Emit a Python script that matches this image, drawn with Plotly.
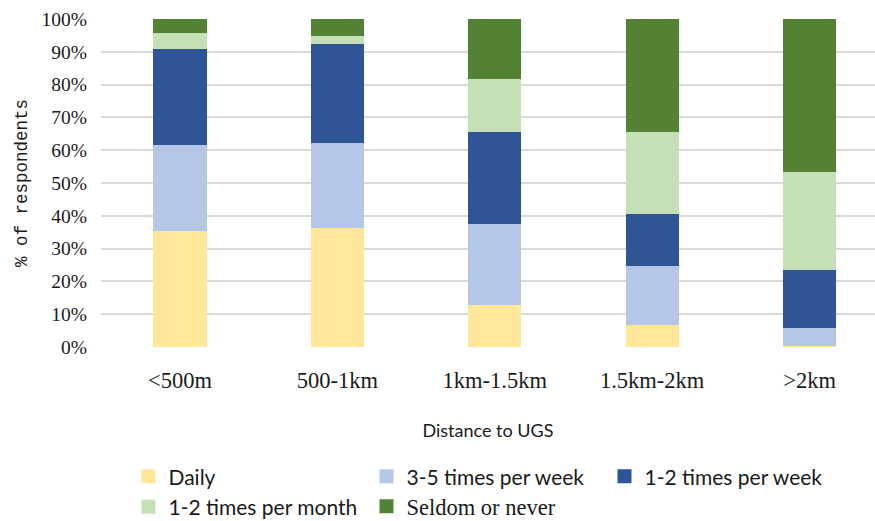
import plotly.graph_objects as go

# Distance bands to urban green space (UGS)
distances = ["<500m", "500-1km", "1km-1.5km", "1.5km-2km", ">2km"]

# Share of respondents (%) by visit frequency, stacked bottom to top
daily = [35.7, 36.7, 13.1, 6.9, 0.6]
times_3_5_week = [26.2, 25.8, 24.7, 18.0, 5.5]
times_1_2_week = [29.3, 30.3, 28.0, 15.9, 17.7]
times_1_2_month = [4.9, 2.2, 16.3, 25.1, 29.9]
seldom_never = [3.9, 5.0, 17.9, 34.1, 46.3]

y_ticks = [0, 10, 20, 30, 40, 50, 60, 70, 80, 90, 100]
y_tick_text = [f"{v}%" for v in y_ticks]

# (name, values, colour, legend id) - the last entry sits in a serif legend
series = [
    ("Daily", daily, "#FFE699", "legend"),
    ("3-5 times per week", times_3_5_week, "#B4C7E7", "legend"),
    ("1-2 times per week", times_1_2_week, "#2F5597", "legend"),
    ("1-2 times per month", times_1_2_month, "#C5E0B4", "legend"),
    ("Seldom or never", seldom_never, "#548235", "legend2"),
]

fig = go.Figure()
for name, values, color, legend_id in series:
    fig.add_trace(go.Bar(
        x=distances,
        y=values,
        name=name,
        # outline in the fill colour also enlarges the legend swatch
        marker=dict(color=color, line=dict(width=2, color=color)),
        width=0.325,
        legend=legend_id,
        hoverinfo="skip",
    ))

sans = "Lato, Liberation Sans, sans-serif"
serif = "Liberation Serif, Times New Roman, serif"
mono = "Liberation Mono, Courier New, monospace"

legend_common = dict(
    orientation="h",
    xanchor="left",
    yanchor="top",
    traceorder="normal",
    bgcolor="rgba(0,0,0,0)",
    entrywidthmode="pixels",
    entrywidth=193,
    itemwidth=30,
)

fig.update_layout(
    width=875,
    height=521,
    margin=dict(l=101, r=0, t=19, b=174, autoexpand=False),
    paper_bgcolor="white",
    plot_bgcolor="white",
    font=dict(family=serif, size=22.5, color="#1a1a1a"),
    barmode="stack",
    bargap=0,
    showlegend=True,
    legend=dict(
        x=0.0355,
        y=-0.333,
        font=dict(family=sans, size=21, color="#1a1a1a"),
        **legend_common,
    ),
    legend2=dict(
        x=0.343,
        y=-0.421,
        font=dict(family=serif, size=22.5, color="#1a1a1a"),
        **legend_common,
    ),
    xaxis=dict(
        range=[-0.502, 4.416],
        showgrid=False,
        showline=False,
        zeroline=False,
        ticks="outside",
        ticklen=13,
        tickcolor="rgba(0,0,0,0)",
        tickfont=dict(family=serif, size=22.5, color="#1a1a1a"),
        title=dict(
            text="Distance to UGS",
            font=dict(family=sans, size=18, color="#1a1a1a"),
            standoff=32,
        ),
        fixedrange=True,
    ),
    yaxis=dict(
        range=[0, 100],
        tickvals=y_ticks,
        ticktext=y_tick_text,
        showgrid=True,
        gridcolor="#d9d9d9",
        gridwidth=2,
        zeroline=False,
        showline=False,
        ticks="outside",
        ticklen=9,
        tickcolor="rgba(0,0,0,0)",
        tickfont=dict(family=serif, size=19.5, color="#1a1a1a"),
        title=dict(
            text="% of respondents",
            font=dict(family=mono, size=17.5, color="#1a1a1a"),
            standoff=9,
        ),
        fixedrange=True,
    ),
)

fig.write_html("out.html", config={"displayModeBar": False, "staticPlot": True})
